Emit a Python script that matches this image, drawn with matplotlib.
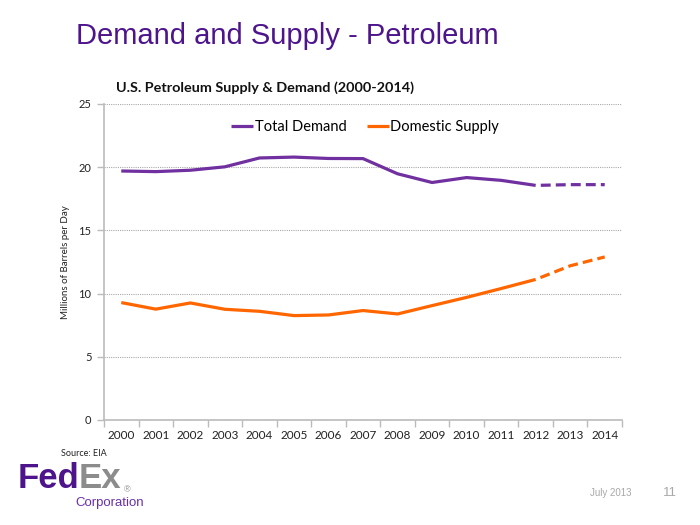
import matplotlib
matplotlib.use("Agg")
import matplotlib.pyplot as plt
import numpy as np

years = ["2000", "2001", "2002", "2003", "2004", "2005", "2006", "2007",
         "2008", "2009", "2010", "2011", "2012", "2013", "2014"]
total_demand = [19.70, 19.65, 19.76, 20.03, 20.73, 20.80, 20.69, 20.68,
                19.48, 18.79, 19.18, 18.96, 18.56, 18.62, 18.62]
domestic_supply = [9.29, 8.77, 9.26, 8.76, 8.60, 8.26, 8.31, 8.66,
                   8.39, 9.05, 9.70, 10.40, 11.12, 12.20, 12.90]
last_actual = 12  # index of 2012: solid up to here, dashed projection after

PURPLE = "#7030A0"
ORANGE = "#FF6600"
TITLE_PURPLE = "#4D148C"
CHART_FONT = ["Lato", "DejaVu Sans"]

plt.rcParams["font.family"] = CHART_FONT

fig = plt.figure(figsize=(7, 5.25), dpi=100)
fig.patch.set_facecolor("white")
ax = fig.add_axes([104/700, 1-420/525, (622-104)/700, (420-104)/525])

LW = 2.3
DASH = (3.1, (3.1, 1.6))
x = np.arange(len(years))
ax.plot(x[:last_actual+1], total_demand[:last_actual+1], color=PURPLE, lw=LW,
        solid_capstyle="butt", solid_joinstyle="round", label="Total Demand")
ax.plot(x[last_actual:], total_demand[last_actual:], color=PURPLE, lw=LW,
        ls=DASH, dash_capstyle="butt")
ax.plot(x[:last_actual+1], domestic_supply[:last_actual+1], color=ORANGE, lw=LW,
        solid_capstyle="butt", solid_joinstyle="round", label="Domestic Supply")
ax.plot(x[last_actual:], domestic_supply[last_actual:], color=ORANGE, lw=LW,
        ls=DASH, dash_capstyle="butt")

ax.set_xlim(-0.5, len(years)-0.5)
ax.set_ylim(0, 25)
ax.set_yticks([0, 5, 10, 15, 20, 25])
ax.set_xticks(x)
ax.set_xticklabels(years)
ax.set_xticks(np.arange(-0.5, len(years)), minor=True)
ax.tick_params(axis="x", which="major", length=0, pad=7, labelsize=8.5, labelcolor="#222222")
ax.tick_params(axis="x", which="minor", length=5, color="#BBBBBB", width=1)
ax.tick_params(axis="y", which="major", length=5, color="#BBBBBB", width=1,
               labelsize=8, labelcolor="#222222", pad=4)

ax.grid(axis="y", color="#AAAAAA", ls=(0, (1, 1)), lw=0.8)
ax.set_axisbelow(True)
for s in ["top", "right"]:
    ax.spines[s].set_visible(False)
for s in ["left", "bottom"]:
    ax.spines[s].set_color("#BBBBBB")
    ax.spines[s].set_linewidth(1.2)

ax.set_ylabel("Millions of Barrels per Day", fontsize=7, color="#222222", labelpad=6)

leg = ax.legend(loc="center", bbox_to_anchor=((365-104)/518, (420-127)/316), ncol=2,
                frameon=False, fontsize=10.5, handlelength=1.5, handletextpad=0.1,
                columnspacing=1.4, borderaxespad=0, borderpad=0)

fig.text(116/700, 1-88/525, "U.S. Petroleum Supply & Demand (2000-2014)",
         fontsize=10.4, fontweight="bold", color="#111111", va="center", ha="left")

fig.text(76/700, 1-36/525, "Demand and Supply - Petroleum", fontsize=21,
         color=TITLE_PURPLE, family="Liberation Sans", va="center", ha="left")

fig.text(61/700, 1-454/525, "Source: EIA", fontsize=6.5, color="#222222",
         va="center", ha="left")

# FedEx Corporation wordmark
logo_font = "Liberation Sans"
fed = fig.text(18/700, 1-479/525, "Fed", fontsize=25, fontweight="bold", color="#4D148C",
               family=logo_font, va="center", ha="left")
fig.canvas.draw()
r = fig.canvas.get_renderer()
fed_end = fed.get_window_extent(r).x1
ex = fig.text((fed_end - 1)/700, 1-479/525, "Ex", fontsize=25, fontweight="bold",
              color="#8C8C8C", family=logo_font, va="center", ha="left")
fig.canvas.draw()
ex_end = ex.get_window_extent(r).x1
fig.text((ex_end + 3)/700, 1-490/525, "\u00ae", fontsize=6.5, color="#8C8C8C",
         family="Liberation Sans", va="center", ha="left")
fig.text(75/700, 1-503/525, "Corporation", fontsize=9.5, color="#6B2FA8",
         family="Liberation Sans", va="center", ha="left")

fig.text(611/700, 1-493/525, "July 2013", fontsize=7, color="#A8A8A8",
         family=logo_font, va="center", ha="center")
fig.text(670/700, 1-493/525, "11", fontsize=9.5, color="#A8A8A8",
         family=logo_font, va="center", ha="center")

fig.savefig("out.png", dpi=100, facecolor="white")
